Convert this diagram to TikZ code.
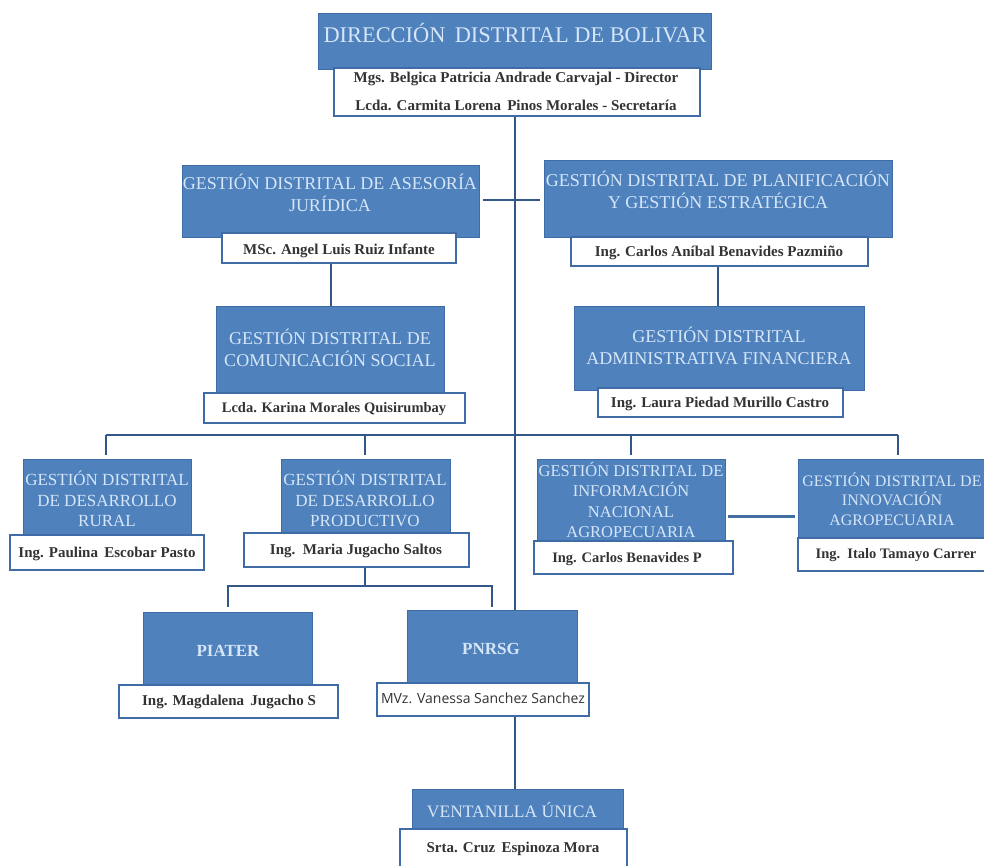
\documentclass[tikz,border=0pt]{standalone}
\usepackage{fontspec}
\setmainfont{Liberation Serif}
\definecolor{boxblue}{HTML}{4F81BD}
\definecolor{edgeblue}{HTML}{3F6CA6}
\definecolor{linkblue}{HTML}{34578A}
\definecolor{titleblue}{HTML}{D5E6F8}
\definecolor{nametext}{HTML}{333333}
\tikzset{
  bluebox/.style={rectangle,fill=boxblue,draw=edgeblue,line width=.6pt,inner sep=0pt},
  whitebox/.style={rectangle,fill=white,draw=edgeblue,line width=1.7pt,inner sep=0pt},
  title/.style={text=titleblue,align=center,inner sep=0pt,font=\fontsize{#1}{\fpeval{#1*1.22}}\selectfont},
  title/.default=17,
  person/.style={text=nametext,align=center,inner sep=0pt,font=\fontsize{#1}{#1}\selectfont\bfseries},
  person/.default=15,
  link/.style={draw=linkblue,line width=2pt},
  trunkline/.style={draw=edgeblue!80!black,line width=2.6pt},
}
\newcommand{\orgbox}[6]{% style name x1 y1 x2 y2
  \node[#1,minimum width=#5-#3,minimum height=#6-#4] (#2) at ({(#3+#5)/2},{(#4+#6)/2}) {};}
\begin{document}
\begin{tikzpicture}[x=1pt,y=-1pt]
\useasboundingbox (0,0) rectangle (984,865);
\fill[white] (0,0) rectangle (984,865);
\coordinate (trunk) at (515,0);

\orgbox{bluebox}{dirB}{318}{13}{711}{69}
\orgbox{whitebox}{dirW}{334}{68}{700}{116}
\orgbox{bluebox}{aseB}{182}{165}{479}{237}
\orgbox{whitebox}{aseW}{222}{233}{456}{263}
\orgbox{bluebox}{plaB}{544}{160}{892}{237}
\orgbox{whitebox}{plaW}{571}{237}{868}{266}
\orgbox{bluebox}{comB}{216}{306}{444}{393}
\orgbox{whitebox}{comW}{204}{393}{465}{423}
\orgbox{bluebox}{admB}{574}{306}{864}{390}
\orgbox{whitebox}{admW}{598}{388}{843}{417}
\orgbox{bluebox}{rurB}{23}{459}{191}{535}
\orgbox{whitebox}{rurW}{10}{535}{204}{570}
\orgbox{bluebox}{proB}{281}{459}{450}{535}
\orgbox{whitebox}{proW}{244}{533}{469}{567}
\orgbox{bluebox}{infB}{537}{459}{725}{542}
\orgbox{whitebox}{infW}{534}{541}{733}{574}
\orgbox{bluebox}{innB}{798}{459}{990}{538}
\orgbox{whitebox}{innW}{798}{538}{990}{571}
\orgbox{bluebox}{piaB}{143}{612}{312}{685}
\orgbox{whitebox}{piaW}{119}{685}{338}{718}
\orgbox{bluebox}{pnrB}{407}{610}{577}{683}
\orgbox{whitebox}{pnrW}{377}{683}{589}{716}
\orgbox{bluebox}{venB}{412}{789}{623}{830}
\orgbox{whitebox}{venW}{400}{829}{627}{870}

\coordinate (aseEnd) at (483,200);
\coordinate (plaEnd) at (540,200);
\coordinate (hbarL) at (106,435);
\coordinate (hbarR) at (898,435);
\coordinate (rurTop) at (106,455);
\coordinate (proTop) at (365,455);
\coordinate (infTop) at (631,455);
\coordinate (innTop) at (898,455);
\coordinate (branch) at (365,586);
\coordinate (piaTop) at (228,607);
\coordinate (pnrTop) at (492,607);
\coordinate (aseDrop) at (331,0);
\coordinate (plaDrop) at (718,0);
\coordinate (infLinkL) at (728,516);
\coordinate (innLinkR) at (795,516);

\draw[trunkline] (trunk |- dirW.south) -- (trunk |- pnrB.north);
\draw[link] (aseEnd) -- (plaEnd);
\draw[link] (aseDrop |- aseW.south) -- (aseDrop |- comB.north);
\draw[link] (plaDrop |- plaW.south) -- (plaDrop |- admB.north);
\draw[link] (hbarL) -- (hbarR);
\draw[link] (hbarL) -- (rurTop);
\draw[link] (proTop |- hbarL) -- (proTop);
\draw[link] (infTop |- hbarL) -- (infTop);
\draw[link] (hbarR) -- (innTop);
\draw[link] (branch |- proW.south) -- (branch);
\draw[link] (piaTop) -- (piaTop |- branch) -- (pnrTop |- branch) -- (pnrTop);
\draw[boxblue!85!black,line width=3pt] (infLinkL) -- (innLinkR);
\draw[trunkline] (trunk |- pnrW.south) -- (trunk |- venB.north);

\node[title=22.4] (dirT) at (515,33) {DIRECCIÓN\, DISTRITAL DE BOLIVAR};
\node[title=18] (aseT) at (330,193) {GESTIÓN DISTRITAL DE ASESORÍA\\JURÍDICA};
\node[title=18] (plaT) at (718,190) {GESTIÓN DISTRITAL DE PLANIFICACIÓN\\Y GESTIÓN ESTRATÉGICA};
\node[title=18] (comT) at (330,348) {GESTIÓN DISTRITAL DE\\COMUNICACIÓN SOCIAL};
\node[title=18] (admT) at (719,346) {GESTIÓN DISTRITAL\\ADMINISTRATIVA FINANCIERA};
\node[title=17] (rurT) at (107,499) {GESTIÓN DISTRITAL\\DE DESARROLLO\\RURAL};
\node[title=17] (proT) at (365,499) {GESTIÓN DISTRITAL\\DE DESARROLLO\\PRODUCTIVO};
\node[title=16.5] (infT) at (631,500) {GESTIÓN DISTRITAL DE\\INFORMACIÓN\\NACIONAL\\AGROPECUARIA};
\node[title=16] (innT) at (892,499) {GESTIÓN DISTRITAL DE\\INNOVACIÓN\\AGROPECUARIA};
\node[text=titleblue,inner sep=0pt,font=\fontsize{17}{20}\selectfont\bfseries] (piaT) at (228,651) {PIATER};
\node[text=titleblue,inner sep=0pt,font=\fontsize{17}{20}\selectfont\bfseries] (pnrT) at (491,649) {PNRSG};
\node[title=17.5] (venT) at (512,810) {VENTANILLA ÚNICA};

\node[person] (dirP1) at (516,79) {Mgs. Belgica Patricia Andrade Carvajal - Director};
\node[person] (dirP2) at (516,105) {Lcda. Carmita Lorena\, Pinos Morales - Secretaría};
\node[person] (aseP) at (339,251) {MSc. Angel Luis Ruiz Infante};
\node[person] (plaP) at (719,253) {Ing. Carlos Aníbal Benavides Pazmiño};
\node[person=14.5] (comP) at (334,409) {Lcda. Karina Morales Quisirumbay};
\node[person] (admP) at (720,404) {Ing. Laura Piedad Murillo Castro};
\node[person] (rurP) at (107,554) {Ing. Paulina\, Escobar Pasto};
\node[person] (proP) at (356,551) {Ing.\, Maria Jugacho Saltos};
\node[person=14.5] (infP) at (627,559) {Ing. Carlos Benavides P};
\node[person=14.5] (innP) at (896,555) {Ing.\, Italo Tamayo Carrer};
\node[person] (piaP) at (229,702) {Ing. Magdalena\, Jugacho S};
\node[text=nametext,inner sep=0pt,font=\fontsize{14}{16}\fontspec{Open Sans}] (pnrP) at (483,698) {MVz. Vanessa Sanchez Sanchez};
\node[person] (venP) at (513,849) {Srta. Cruz\, Espinoza Mora};
\end{tikzpicture}
\end{document}
